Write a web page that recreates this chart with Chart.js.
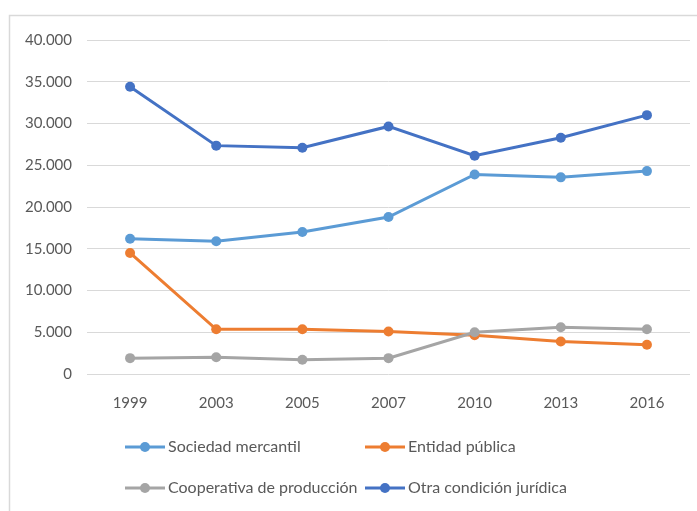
<!DOCTYPE html>
<html lang="es">
<head>
    <meta charset="UTF-8">
    <title>Condición jurídica</title>
    <script src="https://cdn.jsdelivr.net/npm/chart.js"></script>
    <style>
        body { margin: 0; background: #fff; }
        canvas { display: block; }
    </style>
</head>
<body>
    <canvas id="chart" width="697" height="511"></canvas>

    <script>
        // datos
        const years = ['1999', '2003', '2005', '2007', '2010', '2013', '2016'];
        const sociedadMercantil = [16200, 15900, 17000, 18800, 23900, 23550, 24300];
        const entidadPublica = [14500, 5350, 5350, 5100, 4650, 3900, 3500];
        const cooperativaProduccion = [1900, 2000, 1700, 1900, 5000, 5600, 5350];
        const otraCondicion = [34400, 27350, 27100, 29650, 26150, 28300, 31000];
        const seriesNames = ['Sociedad mercantil', 'Entidad pública', 'Cooperativa de producción', 'Otra condición jurídica'];
        const colors = ['#5B9BD5', '#ED7D31', '#A5A5A5', '#4472C4'];

        const FONT = 'Lato, "Open Sans", sans-serif';
        const TEXT = '#595959';

        function fmt(v) {
            return v === 0 ? '0' : String(v).replace(/\B(?=(\d{3})+(?!\d))/g, '.');
        }

        function makeSet(i, data) {
            return {
                label: seriesNames[i],
                data: data,
                borderColor: colors[i],
                backgroundColor: colors[i],
                borderWidth: 3,
                pointRadius: 5,
                pointBorderWidth: 0,
                pointBackgroundColor: colors[i],
                tension: 0,
                order: 4 - i
            };
        }

        // marco gris y leyenda en dos columnas
        const framePlugin = {
            id: 'frame',
            beforeDraw(chart) {
                const ctx = chart.ctx;
                ctx.save();
                ctx.strokeStyle = '#d9d9d9';
                ctx.lineWidth = 1.5;
                ctx.beginPath();
                ctx.moveTo(9.5, 520);
                ctx.lineTo(9.5, 15.5);
                ctx.lineTo(700, 15.5);
                ctx.stroke();
                ctx.restore();
            },
            afterDraw(chart) {
                const ctx = chart.ctx;
                const spots = [[125, 447], [365, 447], [125, 488], [365, 488]];
                ctx.save();
                ctx.font = '16px ' + FONT;
                ctx.textBaseline = 'middle';
                chart.data.datasets.forEach((ds, i) => {
                    const [x, y] = spots[i];
                    ctx.strokeStyle = ds.borderColor;
                    ctx.lineWidth = 3;
                    ctx.beginPath();
                    ctx.moveTo(x, y);
                    ctx.lineTo(x + 40, y);
                    ctx.stroke();
                    ctx.fillStyle = ds.borderColor;
                    ctx.beginPath();
                    ctx.arc(x + 20, y, 5, 0, Math.PI * 2);
                    ctx.fill();
                    ctx.fillStyle = TEXT;
                    ctx.fillText(ds.label, x + 43, y);
                });
                ctx.restore();
            }
        };

        new Chart(document.getElementById('chart'), {
            type: 'line',
            data: {
                labels: years,
                datasets: [
                    makeSet(0, sociedadMercantil),
                    makeSet(1, entidadPublica),
                    makeSet(2, cooperativaProduccion),
                    makeSet(3, otraCondicion)
                ]
            },
            options: {
                responsive: false,
                animation: false,
                layout: { padding: { left: 0, right: 7, top: 40, bottom: 0 } },
                plugins: { legend: { display: false }, tooltip: { enabled: false } },
                scales: {
                    x: {
                        offset: true,
                        grid: { display: false, drawTicks: false, offset: true },
                        border: { display: false },
                        ticks: { color: TEXT, font: { family: FONT, size: 15 }, padding: 20 },
                        afterFit(scale) { scale.height = 137; }
                    },
                    y: {
                        min: 0,
                        max: 40000,
                        grid: { color: '#d9d9d9', lineWidth: 1, drawTicks: false },
                        border: { display: false },
                        ticks: {
                            stepSize: 5000,
                            color: TEXT,
                            font: { family: FONT, size: 15 },
                            padding: 15,
                            callback: v => fmt(v)
                        },
                        afterFit(scale) { scale.width = 87; }
                    }
                }
            },
            plugins: [framePlugin]
        });
    </script>
</body>
</html>
